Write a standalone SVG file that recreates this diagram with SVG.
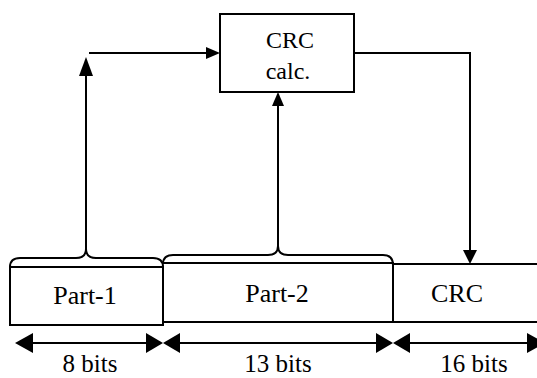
<svg xmlns="http://www.w3.org/2000/svg" width="537" height="378" viewBox="0 0 537 378">
<style>
.ln{fill:none;stroke:#000;stroke-width:2}
.ah{fill:#000;stroke:none}
.t{font-family:'Liberation Serif','Times New Roman','DejaVu Serif',serif;fill:#000;text-anchor:middle}
</style>
<rect width="537" height="378" fill="#fff"/>
<g id="crc-calc">
<rect class="ln" x="220" y="14" width="134" height="78"/>
<text class="t" x="290" y="48" font-size="24">CRC</text>
<text class="t" x="288" y="79" font-size="24">calc.</text>
</g>
<g id="part-1">
<path class="ln" d="M10,267 L163,267 L163,325 L10,325 Z"/>
<text class="t" x="85" y="304" font-size="26">Part-1</text>
</g>
<g id="part-2">
<path class="ln" d="M163,263 L393,263 L393,322 L163,322"/>
<text class="t" x="277" y="302" font-size="26">Part-2</text>
</g>
<g id="crc">
<path class="ln" d="M393,264 L540,264 M393,322 L540,322"/>
<text class="t" x="457" y="302" font-size="26">CRC</text>
</g>
<g id="connectors">
<path class="ln" d="M10,267 Q10,258 20,258 L76,258 Q86,258 86,249 Q86,258 96,258 L153,258 Q163,258 163,267"/>
<path class="ln" d="M163,264 Q163,255 173,255 L268,255 Q278,255 278,246 Q278,255 288,255 L383,255 Q393,255 393,265"/>
<path class="ln" d="M86,249 L86,74"/>
<polygon class="ah" points="86,57 79,76 93,76"/>
<path class="ln" d="M89,53 L208,53"/>
<polygon class="ah" points="220,53 206,47 206,59"/>
<path class="ln" d="M278,246 L278,104"/>
<polygon class="ah" points="278,92 272,106 284,106"/>
<path class="ln" d="M354,53 L470,53 L470,252"/>
<polygon class="ah" points="470,264 463,250 477,250"/>
<path class="ln" d="M30,343 L148,343 M180,343 L376,343 M410,343 L530,343"/>
<polygon class="ah" points="15,343 33,333 33,353"/>
<polygon class="ah" points="163,343 146,333 146,353"/>
<polygon class="ah" points="163,343 180,333 180,353"/>
<polygon class="ah" points="393,343 376,333 376,353"/>
<polygon class="ah" points="393,343 410,333 410,353"/>
<polygon class="ah" points="545,343 527,333 527,353"/>
</g>
<g id="labels">
<text class="t" x="90" y="372" font-size="25">8 bits</text>
<text class="t" x="278" y="372" font-size="25">13 bits</text>
<text class="t" x="474" y="372" font-size="25">16 bits</text>
</g>
</svg>
